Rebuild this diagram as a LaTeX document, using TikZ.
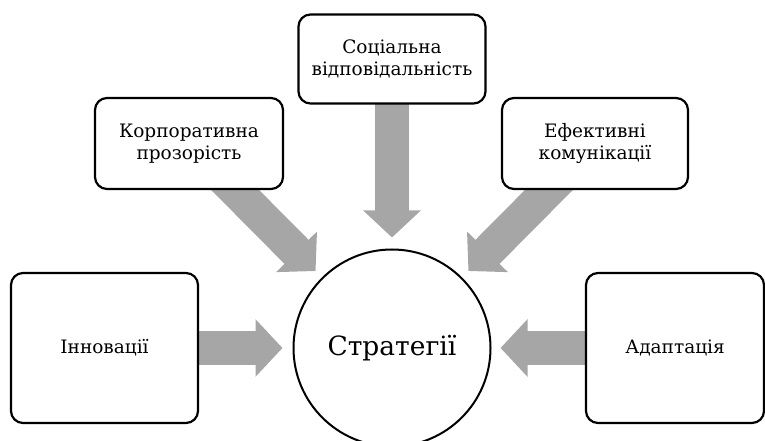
\documentclass[tikz,border=0pt]{standalone}
\usepackage{fontspec}
\setmainfont{DejaVu Serif}
\usepackage{xcolor}
\usepackage{tikz}
\usetikzlibrary{arrows.meta, backgrounds}

\definecolor{arrowgray}{RGB}{166,166,166}

\begin{document}
\begin{tikzpicture}[x=1pt, y=1pt,
    box/.style={draw, line width=2.2pt, rounded corners=12pt, fill=white,
        align=center, inner sep=0pt, font=\fontsize{18.5}{22}\selectfont},
    bigarrow/.style={draw=arrowgray, line width=34pt,
        -{Triangle[width=56pt, length=27pt]}, arrowgray}]
    \useasboundingbox (0,0) rectangle (765,441);

    % Центр
    \node[circle, draw, line width=2pt, fill=white, minimum size=197pt,
        inner sep=0pt, font=\fontsize{26.5}{30}\selectfont] (strat) at (392,93) {Стратегії};

    % Блоки
    \node[box, minimum width=187pt, minimum height=150pt] (inn) at (104.5,93) {Інновації};
    \node[box, minimum width=178pt, minimum height=150pt] (adapt) at (675,93) {Адаптація};
    \node[box, minimum width=188pt, minimum height=91pt] (korp) at (189,297.5) {Корпоративна\\прозорість};
    \node[box, minimum width=187pt, minimum height=89pt] (soc) at (392,382) {Соціальна\\відповідальність};
    \node[box, minimum width=186pt, minimum height=91pt] (efekt) at (595,297.5) {Ефективні\\комунікації};

    % Стрілки
    \begin{pgfonlayer}{background}
        \draw[bigarrow, shorten <=-20pt, shorten >=10pt] (inn) -- (strat);
        \draw[bigarrow, shorten <=-20pt, shorten >=9pt] (adapt) -- (strat);
        \draw[bigarrow, shorten <=-20pt, shorten >=11pt] (soc) -- (strat);
        \draw[bigarrow, shorten <=-20pt, shorten >=9pt] (korp) -- (strat);
        \draw[bigarrow, shorten <=-20pt, shorten >=9pt] (efekt) -- (strat);
    \end{pgfonlayer}
\end{tikzpicture}
\end{document}
